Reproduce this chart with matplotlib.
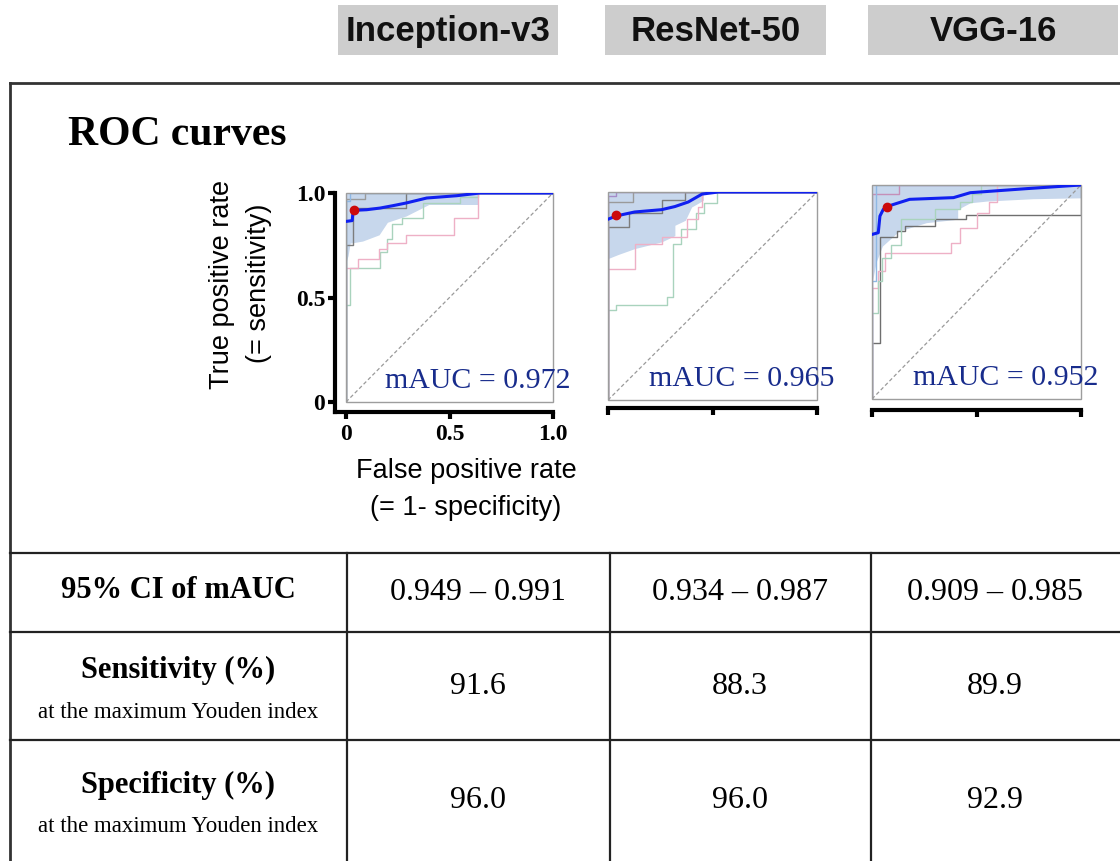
import matplotlib
matplotlib.use("Agg")
import matplotlib.pyplot as plt
from matplotlib.patches import Rectangle

W, H = 1120, 861

SERIF = "Liberation Serif"
SANS = "Liberation Sans"

models = ["Inception-v3", "ResNet-50", "VGG-16"]
mauc = ["0.972", "0.965", "0.952"]
ci_mauc = ["0.949 \u2013 0.991", "0.934 \u2013 0.987", "0.909 \u2013 0.985"]
sensitivity = ["91.6", "88.3", "89.9"]
specificity = ["96.0", "96.0", "92.9"]
row_titles = ["95% CI of mAUC", "Sensitivity (%)", "Specificity (%)"]
row_notes = ["", "at the maximum Youden index", "at the maximum Youden index"]

# mean ROC curves
mean_fpr = [
    [0, 0.03, 0.034, 0.04, 0.10, 0.165, 0.23, 0.29, 0.39, 0.535, 0.647, 1.0],
    [0, 0.04, 0.128, 0.256, 0.32, 0.384, 0.45, 0.528, 1.0],
    [0, 0.03, 0.038, 0.054, 0.07, 0.18, 0.39, 0.47, 0.74, 1.0],
]
mean_tpr = [
    [0.864, 0.868, 0.912, 0.917, 0.92, 0.928, 0.94, 0.952, 0.976, 0.987, 1.0, 1.0],
    [0.869, 0.885, 0.904, 0.915, 0.93, 0.952, 0.99, 1.0, 1.0],
    [0.769, 0.777, 0.855, 0.886, 0.899, 0.933, 0.941, 0.964, 0.983, 1.0],
]
# operating point at maximum Youden index
op_fpr = [0.04, 0.04, 0.07]
op_tpr = [0.917, 0.888, 0.899]

# 95% band around the mean curve
band_fpr = [
    [0, 0.01, 0.02, 0.08, 0.16, 0.20, 0.29, 0.40, 0.64, 0.64, 1.0],
    [0, 0.05, 0.128, 0.256, 0.32, 0.32, 0.37, 0.40, 0.456, 0.456, 1.0],
    [0, 0.02, 0.05, 0.13, 0.26, 0.41, 0.41, 0.47, 0.55, 0.77, 1.0],
]
band_lo = [
    [0.67, 0.70, 0.76, 0.77, 0.80, 0.86, 0.89, 0.945, 0.945, 1.0, 1.0],
    [0.68, 0.70, 0.728, 0.76, 0.79, 0.84, 0.864, 0.928, 0.96, 1.0, 1.0],
    [0.54, 0.64, 0.715, 0.785, 0.824, 0.84, 0.886, 0.917, 0.925, 0.936, 0.94],
]
band_hi = [
    [1.0, 1.0, 1.0, 1.0, 1.0, 1.0, 1.0, 1.0, 1.0, 1.0, 1.0],
    [1.0, 1.0, 1.0, 1.0, 1.0, 1.0, 1.0, 1.0, 1.0, 1.0, 1.0],
    [1.0, 1.0, 1.0, 1.0, 1.0, 1.0, 1.0, 1.0, 1.0, 1.0, 1.0],
]

# individual fold curves: (colour, fpr vertices, tpr vertices)
folds = [
    [
        ("#a9d3bd", [0, 0, 0.018, 0.018, 0.165, 0.165, 0.2, 0.2, 0.22, 0.22, 0.27, 0.27, 0.37, 0.37, 0.55, 0.55, 0.64, 0.64, 1],
                    [0, 0.466, 0.466, 0.64, 0.64, 0.72, 0.72, 0.78, 0.78, 0.85, 0.85, 0.88, 0.88, 0.95, 0.95, 0.98, 0.98, 1, 1]),
        ("#eeb0c6", [0, 0, 0.06, 0.06, 0.16, 0.16, 0.2, 0.2, 0.29, 0.29, 0.52, 0.52, 0.64, 0.64, 1],
                    [0, 0.64, 0.64, 0.684, 0.684, 0.73, 0.73, 0.76, 0.76, 0.80, 0.80, 0.88, 0.88, 1, 1]),
        ("#7d7d7d", [0, 0, 0.035, 0.035, 0.29, 0.29, 1],
                    [0, 0.75, 0.75, 0.93, 0.93, 1, 1]),
        ("#9a9a9a", [0, 0, 0.09, 0.09, 1],
                    [0, 0.97, 0.97, 1, 1]),
        ("#8fb8e3", [0, 0, 0.02, 0.02, 1],
                    [0, 0.96, 0.96, 1, 1]),
    ],
    [
        ("#a9d3bd", [0, 0, 0.04, 0.04, 0.28, 0.28, 0.31, 0.31, 0.35, 0.35, 0.42, 0.42, 0.46, 0.46, 0.52, 0.52, 1],
                    [0, 0.432, 0.432, 0.459, 0.459, 0.496, 0.496, 0.75, 0.75, 0.82, 0.82, 0.90, 0.90, 0.945, 0.945, 1, 1]),
        ("#eeb0c6", [0, 0, 0.13, 0.13, 0.26, 0.26, 0.38, 0.38, 0.43, 0.43, 0.45, 0.45, 1],
                    [0, 0.632, 0.632, 0.752, 0.752, 0.784, 0.784, 0.87, 0.87, 0.93, 0.93, 1, 1]),
        ("#7d7d7d", [0, 0, 0.1, 0.1, 0.26, 0.26, 0.37, 0.37, 1],
                    [0, 0.83, 0.83, 0.90, 0.90, 0.96, 0.96, 1, 1]),
        ("#9a9a9a", [0, 0, 0.12, 0.12, 1],
                    [0, 0.95, 0.95, 1, 1]),
        ("#a58cc8", [0, 0, 0.04, 0.04, 1],
                    [0, 0.98, 0.98, 1, 1]),
    ],
    [
        ("#6f6f6f", [0, 0, 0.04, 0.04, 0.12, 0.12, 0.16, 0.16, 0.3, 0.3, 0.45, 0.45, 1, 1],
                    [0, 0.262, 0.262, 0.755, 0.755, 0.786, 0.786, 0.81, 0.81, 0.84, 0.84, 0.86, 0.86, 1]),
        ("#eeb0c6", [0, 0, 0.03, 0.03, 0.06, 0.06, 0.38, 0.38, 0.42, 0.42, 0.5, 0.5, 0.56, 0.56, 0.6, 0.6, 1],
                    [0, 0.52, 0.52, 0.6, 0.6, 0.68, 0.68, 0.73, 0.73, 0.80, 0.80, 0.87, 0.87, 0.92, 0.92, 1, 1]),
        ("#a9d3bd", [0, 0, 0.03, 0.03, 0.05, 0.05, 0.09, 0.09, 0.14, 0.14, 0.3, 0.3, 0.42, 0.42, 0.48, 0.48, 0.52, 0.52, 1],
                    [0, 0.4, 0.4, 0.55, 0.55, 0.66, 0.66, 0.72, 0.72, 0.84, 0.84, 0.89, 0.89, 0.92, 0.92, 0.96, 0.96, 1, 1]),
        ("#c58fb8", [0, 0, 0.13, 0.13, 1],
                    [0, 0.96, 0.96, 1, 1]),
        ("#8fb8e3", [0, 0, 0.02, 0.02, 1],
                    [0, 0.55, 0.55, 1, 1]),
    ],
]

# pixel layout
panel_boxes = [(346, 193, 553, 402), (608, 192, 817, 400), (872, 185, 1081, 399)]
bottom_offset = [7.5, 6, 8]
header_boxes = [(338, 5, 558, 55), (605, 5, 826, 55), (868, 5, 1118, 55)]
col_centers = [478, 740, 995]
row_lines = [553, 632, 740]
col_lines = [347, 610, 871]


def fig_rect(x0, y0, x1, y1):
    return [x0 / W, 1 - y1 / H, (x1 - x0) / W, (y1 - y0) / H]


fig = plt.figure(figsize=(W / 100, H / 100), dpi=100)
bg = fig.add_axes([0, 0, 1, 1])
bg.set_xlim(0, W)
bg.set_ylim(H, 0)
bg.axis("off")

# model headers
for (x0, y0, x1, y1), name in zip(header_boxes, models):
    bg.add_patch(Rectangle((x0, y0), x1 - x0, y1 - y0, facecolor="#cdcdcd", edgecolor="none"))
    bg.text((x0 + x1) / 2, 41, name, ha="center", va="baseline",
            fontsize=25, fontweight="bold", family=SANS, color="#111111")

# outer frame and table grid
bg.plot([10, W], [83, 83], color="#333333", lw=2)
bg.plot([10, 10], [83, H], color="#333333", lw=2)
for y in row_lines:
    bg.plot([10, W], [y, y], color="#222222", lw=1.6)
for x in col_lines:
    bg.plot([x, x], [row_lines[0], H], color="#222222", lw=1.6)

bg.text(68, 135, "ROC curves", ha="left", va="center", fontsize=30,
        fontweight="bold", family=SERIF)

# axis titles
bg.text(222, 284, "True positive rate", rotation=90, ha="center", va="center",
        fontsize=19.5, family=SANS)
bg.text(259, 283, "(= sensitivity)", rotation=90, ha="center", va="center",
        fontsize=19.5, family=SANS)
bg.text(466, 471, "False positive rate", ha="center", va="center", fontsize=19.5, family=SANS)
bg.text(466, 508, "(= 1- specificity)", ha="center", va="center", fontsize=19.5, family=SANS)

# ROC panels
for i, box in enumerate(panel_boxes):
    ax = fig.add_axes(fig_rect(*box))
    ax.set_xlim(0, 1)
    ax.set_ylim(0, 1)
    ax.set_facecolor("none")
    ax.fill_between(band_fpr[i], band_lo[i], band_hi[i], color="#c7d7ec", lw=0, zorder=1)
    for color, fx, fy in folds[i]:
        ax.plot(fx, fy, color=color, lw=1.0, zorder=2)
    ax.plot([0, 1], [0, 1], color="#9a9a9a", lw=0.9, ls=(0, (3, 2)), zorder=2)
    ax.plot(mean_fpr[i], mean_tpr[i], color="#1020f0", lw=2.2, zorder=4)
    ax.plot(op_fpr[i], op_tpr[i], "o", color="#cc0a0a", ms=6, zorder=5)
    ax.add_patch(Rectangle((0, 0), 1, 1, transform=ax.transAxes, fill=False,
                           edgecolor="#9d9d9d", lw=1.0, zorder=3, clip_on=False))
    ax.text(1.085, 0.1, f"mAUC = {mauc[i]}", transform=ax.transAxes, ha="right",
            va="center", fontsize=21.5, family=SERIF, color="#182c8c")

    for side in ["top", "right"]:
        ax.spines[side].set_visible(False)
    ax.spines["bottom"].set_position(("outward", bottom_offset[i]))
    ax.spines["bottom"].set_linewidth(3)
    ax.spines["bottom"].set_bounds(0 if i else -0.055, 1.0)
    ax.set_xticks([0, 0.5, 1.0])
    ax.tick_params(axis="x", direction="out", length=5, width=3, color="black")
    if i == 0:
        ax.spines["left"].set_position(("outward", 8))
        ax.spines["left"].set_linewidth(3)
        ax.spines["left"].set_bounds(-0.05, 1.0)
        ax.set_yticks([0, 0.5, 1.0])
        ax.set_yticklabels(["0", "0.5", "1.0"], fontsize=17, fontweight="bold", family=SERIF)
        ax.set_xticklabels(["0", "0.5", "1.0"], fontsize=17, fontweight="bold", family=SERIF)
        ax.tick_params(axis="y", direction="out", length=5, width=3, pad=2)
        ax.tick_params(axis="x", pad=3)
    else:
        ax.spines["left"].set_visible(False)
        ax.set_yticks([])
        ax.set_xticklabels([])

# table
row_centers = [(553 + 632) / 2, (632 + 740) / 2, (740 + H) / 2]
title_y = [591, 670, 785]
note_y = [None, 712, 826]
values = [ci_mauc, sensitivity, specificity]
for r in range(3):
    bg.text(178, title_y[r], row_titles[r], ha="center", va="center", fontsize=22,
            fontweight="bold", family=SERIF)
    if row_notes[r]:
        bg.text(178, note_y[r], row_notes[r], ha="center", va="center", fontsize=16.5,
                family=SERIF)
    for c in range(3):
        bg.text(col_centers[c], row_centers[r], values[r][c], ha="center", va="center",
                fontsize=23, family=SERIF)

fig.savefig("out.png", dpi=100)
